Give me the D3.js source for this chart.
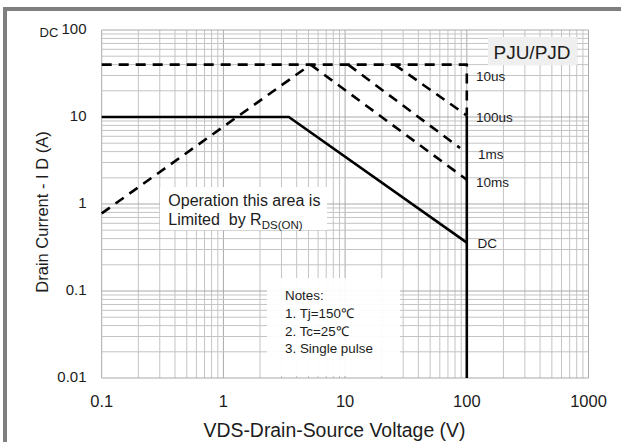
<!DOCTYPE html>
<html>
<head>
<meta charset="utf-8">
<script src="https://cdn.jsdelivr.net/npm/d3@7"></script>
<style>
  html, body { margin: 0; padding: 0; background: #fff; }
  svg { display: block; font-family: "Liberation Sans", Arial, sans-serif; }
  text { fill: #1c1c1c; }
</style>
</head>
<body>
<svg id="chart" width="621" height="442"></svg>
<script>
// ---- data (V in volts, I in amps) ----
const xTickValues = [0.1, 1, 10, 100, 1000];
const xTickLabels = ["0.1", "1", "10", "100", "1000"];
const yTickValues = [0.01, 0.1, 1, 10, 100];
const yTickLabels = ["0.01", "0.1", "1", "10", "100"];

const rdsV = [0.1, 5.2];
const rdsI = [0.78, 40];
const us10V = [0.1, 100, 100];
const us10I = [40, 40, 10.4];
const us100V = [25.5, 100];
const us100I = [40, 10.4];
const ms1V = [10.6, 88];
const ms1I = [40, 4.4];
const ms10V = [5.2, 100];
const ms10I = [40, 1.9];
const dcV = [0.1, 3.45, 100];
const dcI = [10, 10, 0.36];
const limitV = [100, 100];
const limitI = [10.4, 0.01];

const curveLabels = ["10us", "100us", "1ms", "10ms", "DC"];
const curveLabelI = [29.4, 9.8, 3.7, 1.77, 0.35];
const noteLines = ["Notes:", "1. Tj=150\u2103", "2. Tc=25\u2103", "3. Single pulse"];

// ---- layout ----
const svg = d3.select("#chart");
const L = 101.7, R = 588.5, T = 30, B = 378;
const x = d3.scaleLog().domain([0.1, 1000]).range([L, R]);
const y = d3.scaleLog().domain([0.01, 100]).range([B, T]);

// outer frame
svg.append("rect").attr("x", 3).attr("y", 7).attr("width", 618).attr("height", 4).attr("fill", "#7f7f7f");
svg.append("rect").attr("x", 3).attr("y", 7).attr("width", 4).attr("height", 435).attr("fill", "#7f7f7f");

// grid
const isDecade = v => Math.abs(Math.log10(v) - Math.round(Math.log10(v))) < 1e-9;
const g = svg.append("g");
g.selectAll("line.vx").data(x.ticks()).enter().append("line")
  .attr("x1", d => x(d)).attr("x2", d => x(d)).attr("y1", T).attr("y2", B)
  .attr("stroke", d => isDecade(d) ? "#a9a9a9" : "#c4c4c4").attr("stroke-width", 1);
g.selectAll("line.hy").data(y.ticks()).enter().append("line")
  .attr("y1", d => y(d)).attr("y2", d => y(d)).attr("x1", L).attr("x2", R)
  .attr("stroke", d => isDecade(d) ? "#a9a9a9" : "#c4c4c4").attr("stroke-width", 1);

// white boxes over grid
svg.append("rect").attr("x", 160).attr("y", 187).attr("width", 167).attr("height", 43).attr("fill", "#fff");
svg.append("rect").attr("x", 267).attr("y", 278).attr("width", 133).attr("height", 98).attr("fill", "#fff").attr("fill-opacity", 0.93);
svg.append("rect").attr("x", 488).attr("y", 37).attr("width", 89).attr("height", 28).attr("fill", "#efefef");

// curves
const line = (vs, is) => d3.line().x(d => x(d[0])).y(d => y(d[1]))(vs.map((v, i) => [v, is[i]]));
const dashed = [[rdsV, rdsI], [us10V, us10I], [us100V, us100I], [ms1V, ms1I], [ms10V, ms10I]];
dashed.forEach(([vs, is]) => {
  svg.append("path").attr("d", line(vs, is)).attr("fill", "none")
    .attr("stroke", "#000").attr("stroke-width", 2.6).attr("stroke-dasharray", "10,7")
    .attr("stroke-linejoin", "round");
});
[[dcV, dcI], [limitV, limitI]].forEach(([vs, is]) => {
  svg.append("path").attr("d", line(vs, is)).attr("fill", "none")
    .attr("stroke", "#000").attr("stroke-width", 2.6).attr("stroke-linejoin", "round");
});

// curve labels
const labelX = [476, 476, 478, 476, 477.5];
curveLabels.forEach((t, i) => {
  svg.append("text").attr("x", labelX[i]).attr("y", y(curveLabelI[i])).attr("dy", "0.35em")
    .attr("font-size", 13.5).text(t);
});

// axes tick labels
xTickValues.forEach((v, i) => {
  svg.append("text").attr("x", x(v)).attr("y", 407).attr("text-anchor", "middle")
    .attr("font-size", 16.5).text(xTickLabels[i]);
});
yTickValues.forEach((v, i) => {
  svg.append("text").attr("x", 86.5).attr("y", y(v) - 1).attr("dy", "0.36em").attr("text-anchor", "end")
    .attr("font-size", 15).text(yTickLabels[i]);
});
svg.append("text").attr("x", 39.5).attr("y", 36.5).attr("font-size", 13).text("DC");

// axis titles
svg.append("text").attr("x", 334.5).attr("y", 436.5).attr("text-anchor", "middle")
  .attr("font-size", 19.4).text("VDS-Drain-Source Voltage (V)");
svg.append("text").attr("transform", "translate(48,212) rotate(-90)").attr("text-anchor", "middle")
  .attr("font-size", 16.5).text("Drain Current - I D (A)");

// annotations
svg.append("text").attr("x", 168.3).attr("y", 206).attr("font-size", 16).text("Operation this area is");
const t2 = svg.append("text").attr("x", 168.3).attr("y", 224.5).attr("font-size", 16).attr("xml:space", "preserve")
  .style("white-space", "pre");
t2.append("tspan").text("Limited  by R");
t2.append("tspan").attr("dy", 4).attr("font-size", 11.5).text("DS(ON)");

noteLines.forEach((t, i) => {
  svg.append("text").attr("x", 285).attr("y", 300 + i * 17.8).attr("font-size", 13.4).text(t);
});

svg.append("text").attr("x", 532).attr("y", 59.3).attr("text-anchor", "middle")
  .attr("font-size", 19).text("PJU/PJD");
</script>
</body>
</html>
